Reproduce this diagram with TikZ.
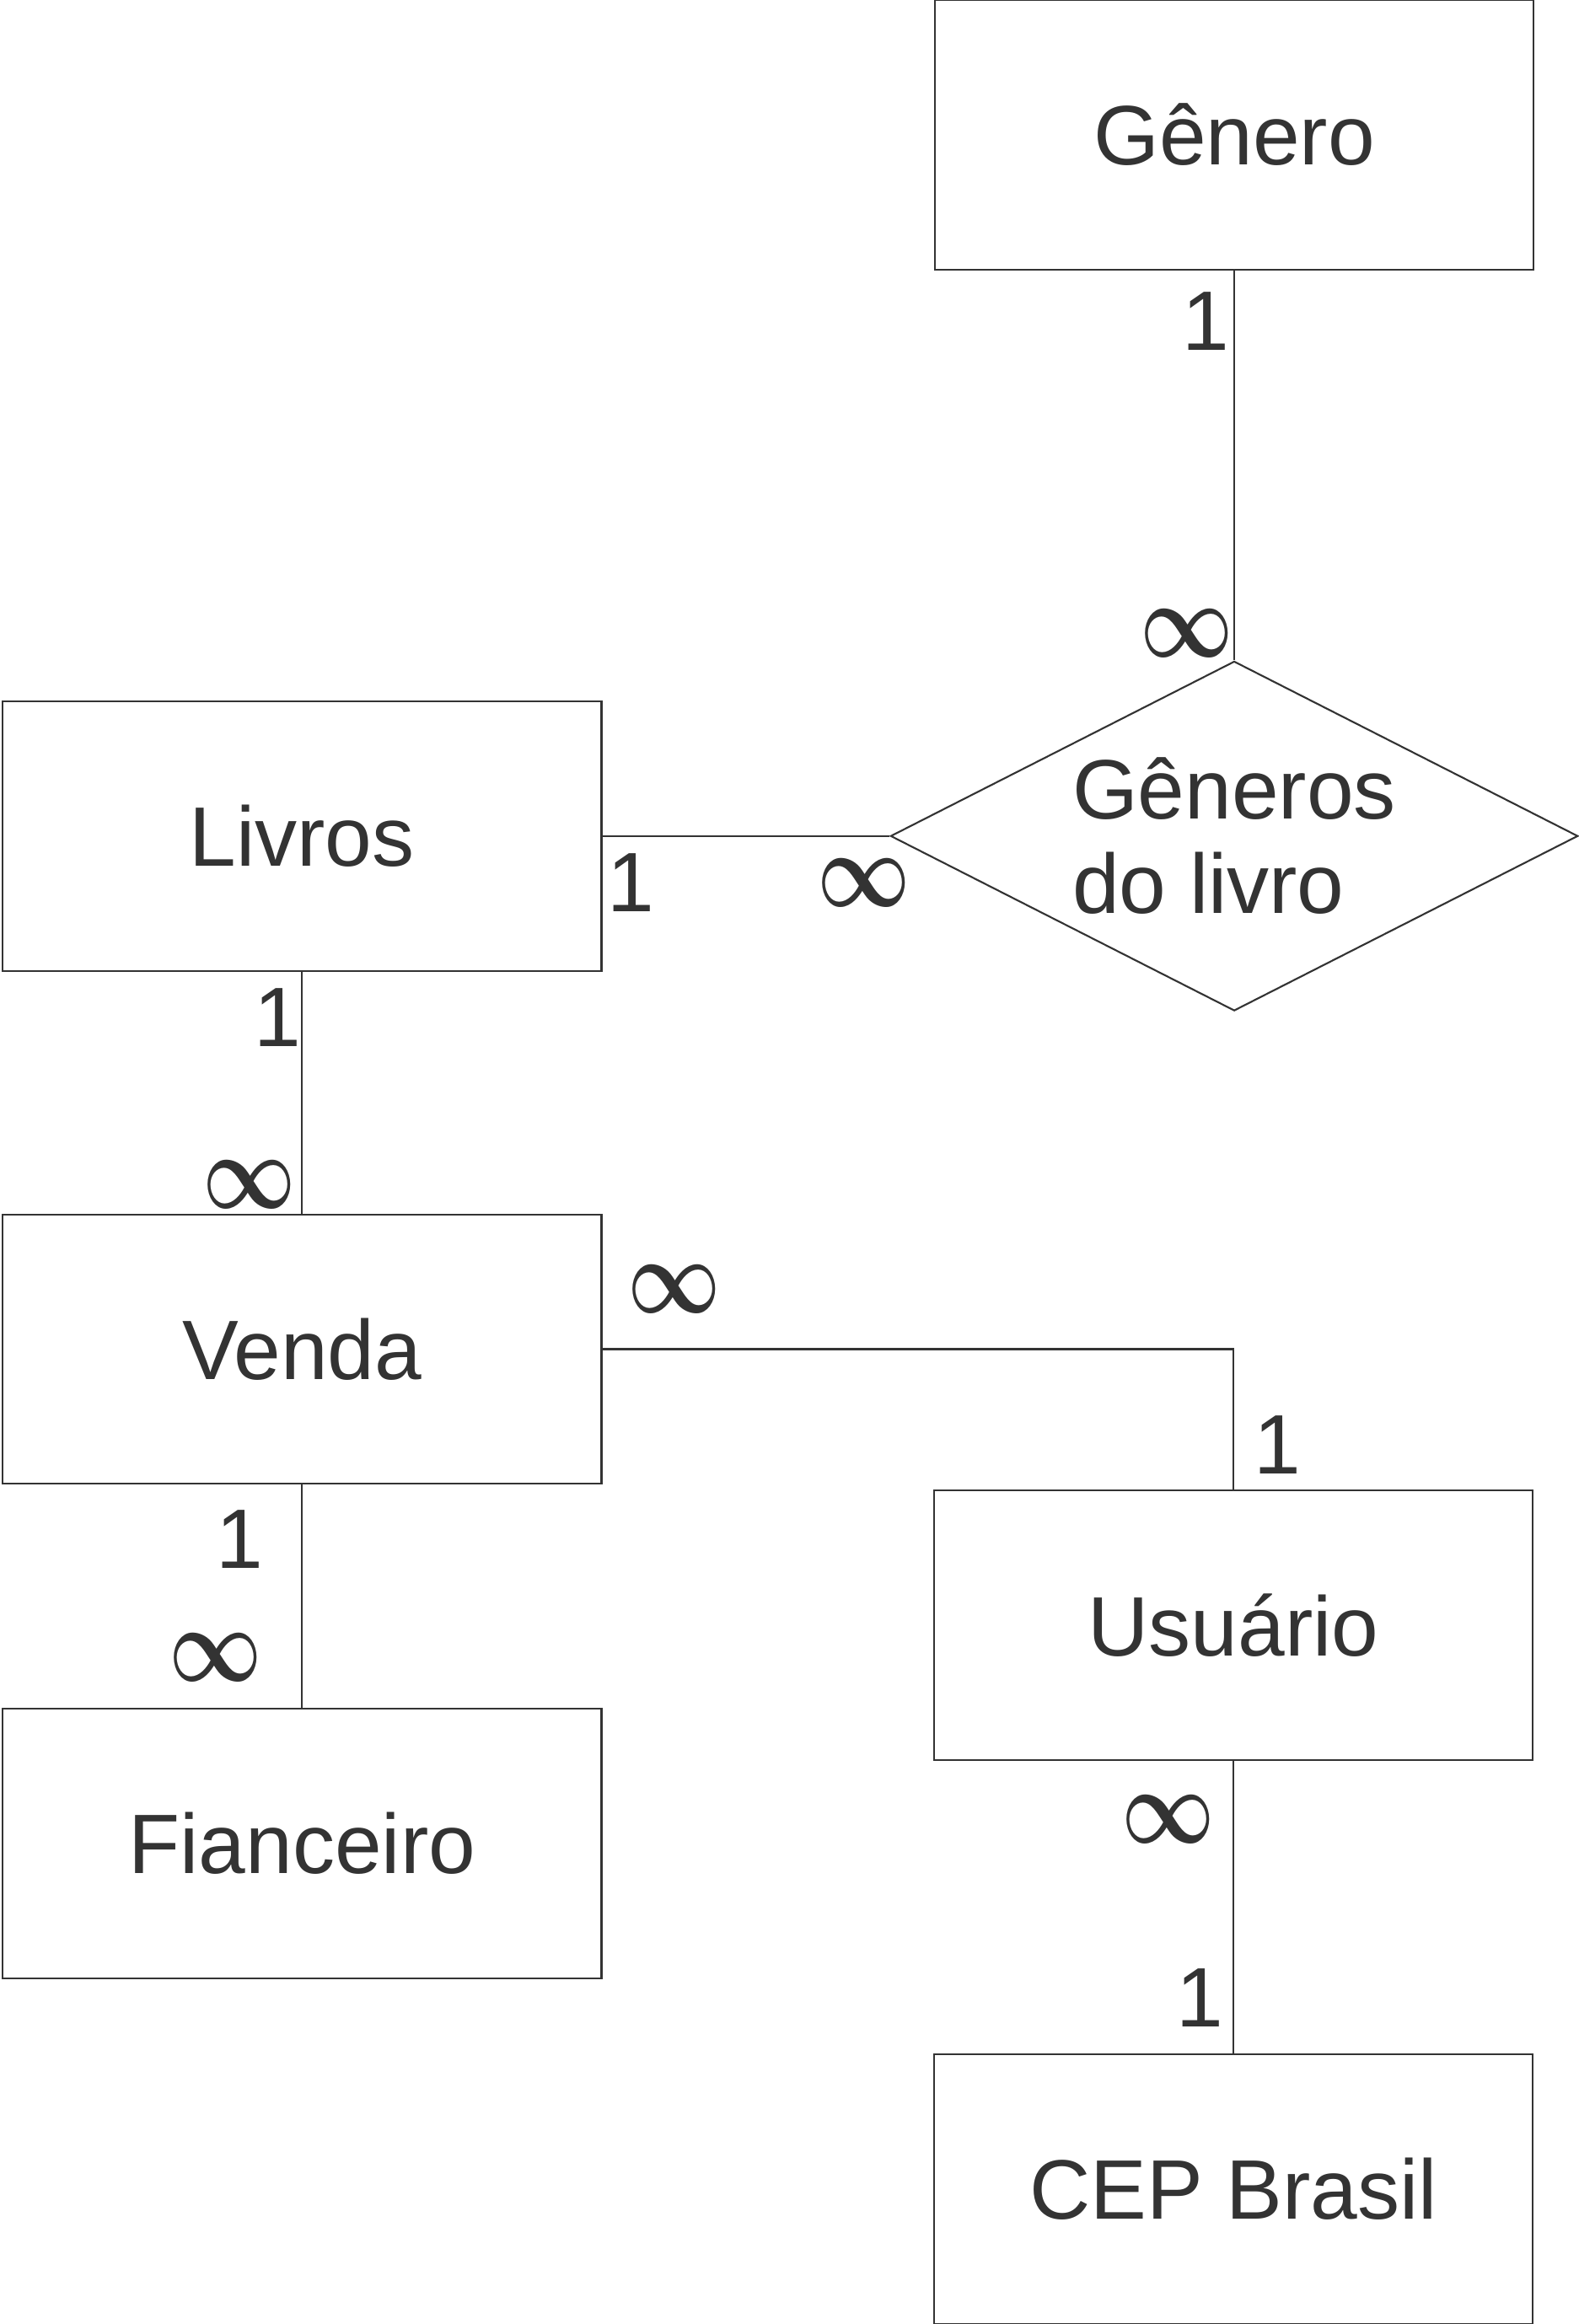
\documentclass[tikz,border=0pt]{standalone}
\usepackage{bm}
\usepackage{fontspec}
\setmainfont{Liberation Sans}
\usepackage{tikz}
\usetikzlibrary{positioning}
\usetikzlibrary{shapes.geometric}

\definecolor{linha}{gray}{0.2}
\newcommand{\infinito}{\scalebox{1.1}[1.45]{$\bm{\infty}$}}

\begin{document}
\begin{tikzpicture}[
        entidade/.style={rectangle, draw=linha, line width=0.6pt, text=linha, minimum width=7.11cm, minimum height=3.2cm, font=\fontsize{28.5}{32}\selectfont},
        relacao/.style={diamond, draw=linha, line width=0.6pt, text=linha, minimum width=8.16cm, minimum height=4.15cm, inner sep=0pt, shape aspect=2, align=left, font=\fontsize{28.5}{32}\selectfont},
        card/.style={inner sep=0pt, text=linha, font=\fontsize{28.5}{32}\selectfont},
        ligacao/.style={draw=linha, line width=0.6pt},
        ]
        \useasboundingbox (-0.01,0.01) rectangle (18.73,-27.58);

        %Nodes
        \node[entidade]  (livros)    at (3.575,-9.915)          {Livros};
        \node[relacao]   (generos)   [right=3.41cm of livros]   {Gêneros\\do livro};
        \node[entidade]  (genero)    [above=4.63cm of generos]  {Gênero};
        \node[entidade]  (venda)     [below=2.87cm of livros]   {Venda};
        \node[entidade]  (fianceiro) [below=2.65cm of venda]    {Fianceiro};
        \node[entidade]  (usuario)   at (14.63,-19.285)         {Usuário};
        \node[entidade]  (cep)       [below=3.47cm of usuario]  {CEP Brasil};

        %Lines
        \path (genero.south)  edge [ligacao] node [card, pos=0.13, left=0.5mm] {1} node [card, pos=0.93, left=0mm] {\infinito} (generos.north);
        \path (livros.east)   edge [ligacao] node [card, pos=0.10, below=2mm] {1} node [card, pos=0.91, below=2.6mm] {\infinito} (generos.west);
        \path (livros.south)  edge [ligacao] node [card, pos=0.19, left=0mm] {1} node [card, pos=0.88, left=0.6mm] {\infinito} (venda.north);
        \draw[ligacao] (venda.east) -| node [card, pos=0.057, above=4.2mm] {\infinito} node [card, pos=0.84, right=2.4mm] {1} (usuario.north);
        \path (venda.south)   edge [ligacao] node [card, pos=0.245, left=4.5mm] {1} node [card, pos=0.774, left=4.6mm] {\infinito} (fianceiro.north);
        \path (usuario.south) edge [ligacao] node [card, pos=0.2, left=2.1mm] {\infinito} node [card, pos=0.81, left=1.1mm] {1} (cep.north);
\end{tikzpicture}
\end{document}
